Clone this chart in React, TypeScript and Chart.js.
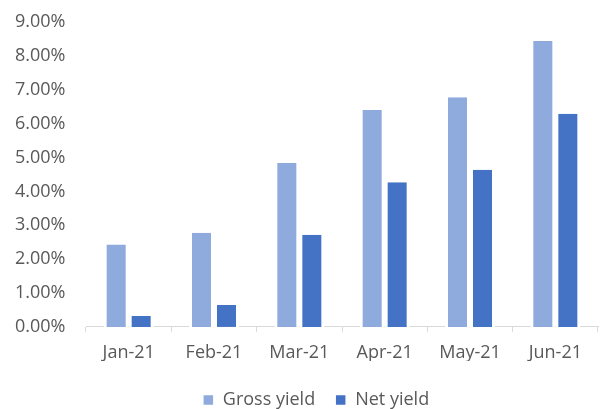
import React, { useEffect, useRef } from "react";
import { Chart, registerables } from "chart.js";

Chart.register(...registerables);

const categories = ["Jan-21", "Feb-21", "Mar-21", "Apr-21", "May-21", "Jun-21"];
const grossYield = [2.43, 2.78, 4.84, 6.4, 6.78, 8.44];
const netYield = [0.32, 0.65, 2.72, 4.27, 4.64, 6.29];
const seriesNames = ["Gross yield", "Net yield"];

const legendShift = {
  id: "legendShift",
  afterLayout(chart: any) {
    const lg = chart.legend;
    if (!lg) return;
    const dy = 10;
    const dx = 316 - (lg.left + lg.right) / 2;
    lg.top += dy;
    lg.bottom += dy;
    lg.left += dx;
    lg.right += dx;
  },
};

export default function App() {
  const ref = useRef<HTMLCanvasElement | null>(null);

  useEffect(() => {
    if (!ref.current) return;
    const font = { family: "'Open Sans', sans-serif", size: 18 };
    const sideBorder = { left: 3, right: 3, top: 0, bottom: 0 };
    const chart = new Chart(ref.current, {
      type: "bar",
      data: {
        labels: categories,
        datasets: [
          {
            label: seriesNames[0],
            data: grossYield,
            backgroundColor: "#8FAADC",
            borderColor: "#FFFFFF",
            borderWidth: sideBorder as any,
            borderSkipped: false,
            categoryPercentage: 0.586,
            barPercentage: 1,
          },
          {
            label: seriesNames[1],
            data: netYield,
            backgroundColor: "#4472C4",
            borderColor: "#FFFFFF",
            borderWidth: sideBorder as any,
            borderSkipped: false,
            categoryPercentage: 0.586,
            barPercentage: 1,
          },
        ],
      },
      plugins: [legendShift],
      options: {
        animation: false,
        responsive: false,
        maintainAspectRatio: false,
        layout: { padding: { top: 22, right: 2, left: 15, bottom: 0 } },
        plugins: {
          tooltip: { enabled: false },
          legend: {
            position: "bottom",
            labels: {
              font,
              color: "#595959",
              boxWidth: 11,
              boxHeight: 11,
              padding: 20,
            },
          },
        },
        scales: {
          x: {
            offset: true,
            grid: {
              display: true,
              offset: true,
              drawOnChartArea: false,
              drawTicks: true,
              tickLength: 5,
              color: "#D9D9D9",
            },
            border: { display: true, color: "#D9D9D9", width: 1 },
            ticks: { font, color: "#595959", padding: 10, maxRotation: 0 },
            afterFit: (s: any) => {
              s.height -= 12.5;
            },
          },
          y: {
            min: 0,
            max: 9,
            grid: { display: false, drawTicks: false },
            border: { display: false },
            ticks: {
              stepSize: 1,
              font,
              color: "#595959",
              padding: 0,
              crossAlign: "far",
              callback: (v: any) => Number(v).toFixed(2) + "%",
            },
            afterFit: (s: any) => {
              s.width = 71;
            },
          },
        },
      },
    });
    return () => chart.destroy();
  }, []);

  return (
    <div style={{ position: "fixed", left: 0, top: 0, width: 600, height: 409, background: "#fff" }}>
      <canvas ref={ref} width={600} height={409} style={{ display: "block" }} />
    </div>
  );
}
